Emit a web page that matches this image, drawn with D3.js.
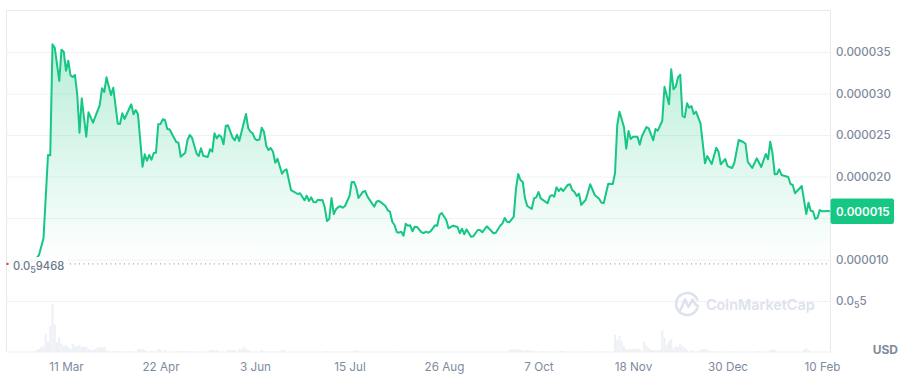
<!DOCTYPE html>
<html>
<head>
<meta charset="utf-8">
<script src="https://cdnjs.cloudflare.com/ajax/libs/d3/7.8.5/d3.min.js"></script>
<style>
  html, body { margin: 0; padding: 0; background: #fff; }
  svg { display: block; font-family: Inter, "Noto Sans", sans-serif; }
  .domain { display: none; }
</style>
</head>
<body>
<div id="chart"></div>
<script>
// day = days since 11 Mar, price in millionths of USD
const days = [-26,-24,-20,-17,-14,-12,-10,-8,-7,-6,-5,-3,-2,-1,0,1,2,3,4,5,6,7,9,10,12,15,16,17,18,20,21,23,24,25,26,29,30,31,32,34,35,36,37,38,39,40,41,42,43,44,45,46,49,50,51,53,54,55,56,58,59,60,61,63,64,65,66,67,68,69,70,71,72,74,75,76,77,80,81,82,83,84,85,86,87,88,89,90,91,92,93,94,96,97,98,100,103,104,106,107,108,109,110,111,112,113,114,115,116,117,118,119,120,121,122,123,124,126,127,128,129,130,132,133,134,137,138,139,140,142,143,144,145,146,147,148,149,150,151,152,153,154,155,156,158,159,160,161,162,164,165,166,167,169,170,172,174,175,176,177,178,180,181,183,184,185,187,190,191,193,194,195,196,197,199,200,201,202,203,204,205,207,208,209,210,211,214,215,216,217,218,219,220,221,223,224,225,226,227,228,229,231,233,235,237,238,239,241,243,244,245,246,248,249,250,251,252,254,255,256,258,259,261,262,263,265,266,268,269,270,271,272,273,274,275,276,277,278,279,280,282,284,285,287,289,290,291,293,294,296,297,299,301,302,303,305,307,309,311,312,313,314,315,316,317,318,321,322,323,324,327,329,330,331,332,333,334,335,336,339.5];
const prices = [9.46,9.76,9.88,9.70,9.88,10.54,12.55,22.59,22.55,35.93,35.52,31.51,35.28,35.03,32.75,33.95,32.19,31.99,32.23,29.82,25.28,29.42,24.79,27.73,26.48,28.61,30.63,30.18,31.95,29.82,30.70,26.36,26.32,27.61,26.93,28.70,27.49,28.01,27.49,21.18,22.67,21.90,22.59,22.02,22.83,22.87,26.29,26.32,26.89,26.81,25.72,25.69,24.16,24.07,22.38,22.87,24.40,25.00,24.67,22.79,22.47,23.40,22.51,22.35,23.28,22.99,25.20,24.60,25.00,24.79,23.88,26.08,26.17,24.72,24.36,25.04,24.28,27.53,25.81,25.40,25.20,24.52,24.36,24.48,25.88,25.36,23.71,23.19,23.43,22.99,21.66,22.14,20.34,20.70,20.87,18.37,17.89,17.98,17.13,17.69,17.05,17.49,16.93,16.89,17.20,17.13,17.17,16.29,14.64,14.88,17.41,15.48,16.05,16.32,16.41,16.24,16.45,17.65,19.34,19.34,18.65,17.41,18.17,18.25,17.57,16.36,16.96,17.08,16.89,16.45,15.93,15.76,14.55,14.16,13.31,13.23,13.35,12.87,14.31,14.07,14.12,13.40,13.95,13.92,13.28,13.19,13.35,13.23,13.40,14.12,14.07,15.36,15.60,14.76,13.76,14.07,13.92,13.16,13.71,13.04,13.64,12.75,12.79,13.55,13.55,13.28,14.00,13.16,13.23,14.07,14.36,15.00,14.55,14.48,15.16,18.58,20.30,19.58,19.34,17.37,16.45,16.08,17.37,17.49,18.13,17.37,16.77,17.57,17.77,17.57,18.70,18.25,18.58,18.25,18.98,19.06,18.37,18.13,17.65,17.93,16.57,17.20,19.06,17.77,17.29,16.84,16.81,19.13,19.10,20.39,26.20,27.81,25.93,23.35,25.48,24.52,24.79,24.79,23.83,24.88,25.96,25.81,24.36,25.72,25.52,26.72,30.82,28.70,32.91,30.51,30.82,31.95,32.26,27.29,27.13,28.82,28.29,28.49,27.53,27.81,26.41,21.59,22.47,21.51,23.47,22.99,21.47,22.11,21.26,21.02,21.59,24.40,24.16,23.95,21.78,21.02,22.19,21.14,22.71,22.07,24.19,22.79,20.26,20.30,20.87,20.18,19.94,19.10,18.98,17.98,18.85,15.48,16.84,15.88,15.81,14.88,15.04,15.96,15.81,15.84];

const volDays = [-13,-12,-11,-10,-9,-8,-7,-6,-5,-4,-3,-2,-1,0,1,2,3,4,5,6,7,8,9,10,11,12,13,14,15,16,17,18,19,21,23,25,28,32,33,34,35,38,41,42,44,50,52,54,56,64,65,66,67,72,73,74,75,77,78,79,80,81,87,89,93,96,97,116,120,127,128,129,147,197,198,199,200,201,202,203,204,205,206,207,208,212,213,220,221,232,239,244,245,246,247,248,249,250,251,252,253,254,255,257,258,259,260,261,262,263,264,265,266,267,268,269,270,271,272,273,274,275,276,278,282,283,284,285,286,289,297,308,313,314,315,328,329,330];
const volumes = [2,3,5,6,18,10,26,48,27,10,15,8,6,7,5,3,8,6,6,7,5,5,5,3,2,2,3,4,5,4,5,2,1,1,1,1,1,3,3,3,2,1,3,2,2,1,1,1,1,2,2,2,2,2,2,2,2,3,3,5,3,2,2,1,1,2,2,1,1,1,1,2,1,2,3,3,2,3,2,2,1,2,2,1,1,1,1,1,1,1,1,17,12,16,11,6,3,3,3,3,3,3,3,10,6,4,2,2,2,2,2,22,14,7,11,13,4,6,5,8,6,4,2,2,2,3,3,2,1,1,1,1,2,3,2,2,4,2];

const xTickDays = [0,42,84,126,168,210,252,294,336];
const xTickLabels = ['11 Mar','22 Apr','3 Jun','15 Jul','26 Aug','7 Oct','18 Nov','30 Dec','10 Feb'];
const yTicks = [5,10,15,20,25,30,35];
const minPrice = 9.468;
const lastPrice = 15.84;

const width = 905;
const height = 376;
const plotLeft = 6.5;
const plotRight = 830.5;
const plotTop = 10.5;
const plotBottom = 352;

const xScale = d3.scaleLinear().domain([0, 336]).range([66, 822]);
const yScale = d3.scaleLinear().domain([0, 35]).range([342.5, 52]);
const volScale = d3.scaleLinear().domain([0, 48]).range([plotBottom, 304]);

const green = '#16c784';
const gridColor = '#eff2f5';
const labelColor = '#808a9d';

const svg = d3.select('#chart').append('svg')
  .attr('width', width)
  .attr('height', height);

const defs = svg.append('defs');
const grad = defs.append('linearGradient')
  .attr('id', 'areaFill')
  .attr('gradientUnits', 'userSpaceOnUse')
  .attr('x1', 0).attr('x2', 0)
  .attr('y1', yScale(d3.max(prices))).attr('y2', yScale(minPrice));
grad.append('stop').attr('offset', 0).attr('stop-color', green).attr('stop-opacity', 0.3);
grad.append('stop').attr('offset', 1).attr('stop-color', green).attr('stop-opacity', 0);

// subscript style numbers like 0.0(5)5
function subLabel(text, head, sub, tail) {
  text.text(null);
  text.append('tspan').text(head);
  text.append('tspan').attr('font-size', 9).attr('dy', 3).text(sub);
  text.append('tspan').attr('dy', -3).text(tail);
}

// grid
svg.append('g')
  .attr('transform', `translate(${plotLeft},0)`)
  .call(d3.axisRight(yScale).tickValues(yTicks).tickSize(plotRight - plotLeft).tickFormat(''))
  .selectAll('line').attr('stroke', gridColor);

// frame
svg.append('path')
  .attr('d', `M${plotLeft},${plotBottom}V${plotTop}H${plotRight}V${plotBottom}`)
  .attr('fill', 'none')
  .attr('stroke', '#e8eaee');
svg.append('line')
  .attr('x1', plotLeft).attr('x2', plotRight)
  .attr('y1', plotBottom).attr('y2', plotBottom)
  .attr('stroke', '#eceff3');

// volume
svg.append('g').selectAll('rect')
  .data(volDays).enter()
  .append('rect')
  .attr('x', d => xScale(d) - 1)
  .attr('width', 2)
  .attr('y', (d, i) => volScale(volumes[i]))
  .attr('height', (d, i) => plotBottom - volScale(volumes[i]))
  .attr('fill', '#edf0f4');

// watermark
const mark = svg.append('g').attr('fill', 'none').attr('stroke', '#dde2ec').attr('stroke-width', 2.6);
mark.append('path')
  .attr('d', 'M697.2,308.5A11,11 0 1 1 697.2,299.5')
  .attr('stroke-linecap', 'round');
mark.append('path')
  .attr('d', 'M680.5,310L685,299.5L688.5,307L692.5,299.5C694,302 695,305 698,306')
  .attr('stroke-linejoin', 'round').attr('stroke-linecap', 'round');
svg.append('text')
  .attr('x', 706).attr('y', 310)
  .attr('font-size', 14.4).attr('font-weight', 600)
  .attr('fill', '#dde2ec')
  .text('CoinMarketCap');

// price
const area = d3.area()
  .x((d, i) => xScale(days[i]))
  .y0(yScale(minPrice))
  .y1(d => yScale(d));
const line = d3.line()
  .x((d, i) => xScale(days[i]))
  .y(d => yScale(d));

svg.append('path').datum(prices)
  .attr('d', area)
  .attr('fill', 'url(#areaFill)');
svg.append('path').datum(prices)
  .attr('d', line)
  .attr('fill', 'none')
  .attr('stroke', green)
  .attr('stroke-width', 2)
  .attr('stroke-linejoin', 'round');

// min price marker
svg.append('line')
  .attr('x1', 70).attr('x2', plotRight)
  .attr('y1', yScale(minPrice)).attr('y2', yScale(minPrice))
  .attr('stroke', labelColor)
  .attr('stroke-dasharray', '1 3.5');
svg.append('rect')
  .attr('x', 7).attr('y', 257).attr('width', 61).attr('height', 20)
  .attr('fill', '#fff').attr('opacity', 0.93);
svg.append('circle')
  .attr('cx', xScale(days[0])).attr('cy', yScale(minPrice)).attr('r', 1.2)
  .attr('fill', '#ea3943');
svg.append('text')
  .attr('x', 13).attr('y', 270)
  .attr('font-size', 11.2).attr('font-weight', 500)
  .attr('fill', '#6b778c')
  .call(subLabel, '0.0', '5', '9468');

// y axis labels, 15 sits under the price tag
const yAxisG = svg.append('g')
  .attr('transform', `translate(${plotRight},0)`)
  .call(d3.axisRight(yScale).tickValues(yTicks.filter(d => d !== 15)).tickSize(0).tickPadding(5.5)
    .tickFormat(d => d3.format('.6f')(d / 1e6)));
yAxisG.selectAll('text')
  .attr('font-family', 'Inter, "Noto Sans", sans-serif')
  .attr('font-size', 11.6).attr('font-weight', 500)
  .attr('fill', labelColor);
yAxisG.selectAll('.tick').filter(d => d === 5).select('text')
  .call(subLabel, '0.0', '5', '5');

// current price tag
svg.append('rect')
  .attr('x', plotRight).attr('y', yScale(lastPrice) - 12.5)
  .attr('width', 63.5).attr('height', 25.5).attr('rx', 2.5)
  .attr('fill', green);
svg.append('text')
  .attr('x', 836).attr('y', yScale(lastPrice) + 4.5)
  .attr('font-size', 11.6).attr('font-weight', 600)
  .attr('fill', '#fff')
  .text(d3.format('.6f')(Math.floor(lastPrice) / 1e6));

// x axis labels
const xAxisG = svg.append('g')
  .attr('transform', `translate(0,${plotBottom})`)
  .call(d3.axisBottom(xScale).tickValues(xTickDays).tickSize(0).tickPadding(11)
    .tickFormat((d, i) => xTickLabels[i]));
xAxisG.selectAll('text')
  .attr('font-family', 'Inter, "Noto Sans", sans-serif')
  .attr('font-size', 11.7).attr('font-weight', 400)
  .attr('fill', labelColor);

svg.append('text')
  .attr('x', 898).attr('y', 353.5)
  .attr('text-anchor', 'end')
  .attr('font-size', 12).attr('font-weight', 700)
  .attr('fill', labelColor)
  .text('USD');
</script>
</body>
</html>
